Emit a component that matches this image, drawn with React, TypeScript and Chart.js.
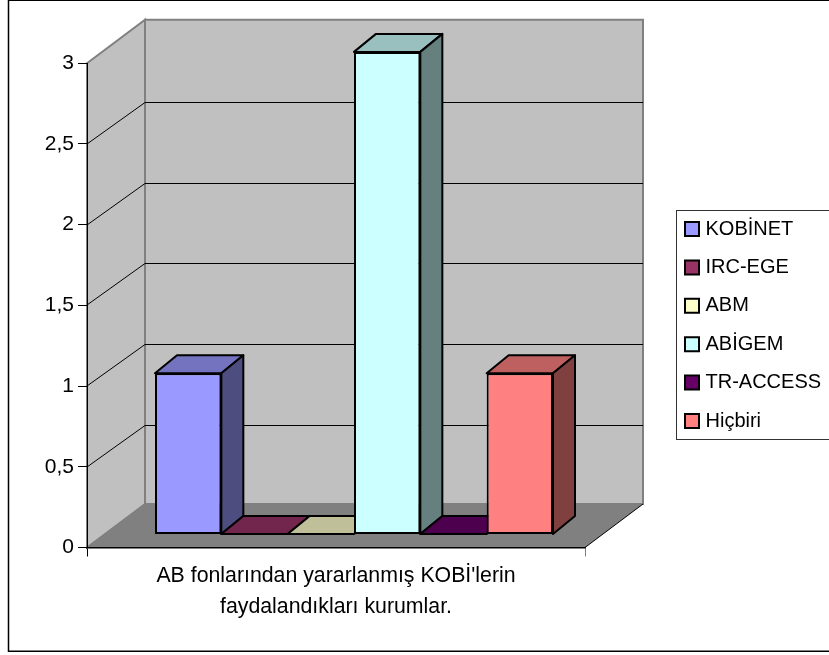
import React, { useEffect, useRef } from "react";
import { Chart, registerables } from "chart.js";

Chart.register(...registerables);

const categories = [["AB fonlarından yararlanmış KOBİ'lerin", "faydalandıkları kurumlar."]];
const seriesNames = ["KOBİNET", "IRC-EGE", "ABM", "ABİGEM", "TR-ACCESS", "Hiçbiri"];
const seriesValues = [1, 0, 0, 3, 0, 1];
const frontColors = ["#9999FF", "#993366", "#FFFFCC", "#CCFFFF", "#660066", "#FF8080"];
const topColors = ["#7373BF", "#73264D", "#BFBF99", "#99BFBF", "#4D004D", "#BF6060"];
const sideColors = ["#4D4D80", "#4D1A33", "#808066", "#668080", "#330033", "#804040"];
const yTickLabels = ["0", "0,5", "1", "1,5", "2", "2,5", "3"];

const FONT = "'Liberation Sans', Arial, sans-serif";
const WALL = { dx: 58, dy: 43.5, gridDy: 42 };
const BAR = { dx: 22, dy: 18, shift: 18 };

const poly = (ctx: CanvasRenderingContext2D, pts: number[][]) => {
  ctx.beginPath();
  pts.forEach((p, i) => (i ? ctx.lineTo(p[0], p[1]) : ctx.moveTo(p[0], p[1])));
  ctx.closePath();
};

const scenePlugin = {
  id: "scene3d",
  afterLayout(chart: any) {
    const l = chart.legend;
    l.left = 670.1;
    l.right = 829;
    l.top = 150;
    l.bottom = 500;
  },
  beforeDraw(chart: any) {
    const { ctx, chartArea: a, scales } = chart;
    const { dx, dy, gridDy } = WALL;
    ctx.save();
    ctx.fillStyle = "#fff";
    ctx.fillRect(0, 0, chart.width, chart.height);
    ctx.strokeStyle = "#000";
    ctx.lineWidth = 1.5;
    ctx.strokeRect(8.5, 0.25, 840, 651);

    // walls
    ctx.fillStyle = "#C0C0C0";
    ctx.strokeStyle = "#808080";
    ctx.lineWidth = 2;
    poly(ctx, [[a.left, a.top], [a.left + dx, a.top - dy], [a.left + dx, a.bottom - dy], [a.left, a.bottom]]);
    ctx.fill();
    ctx.stroke();
    poly(ctx, [[a.left + dx, a.top - dy], [a.right + dx, a.top - dy], [a.right + dx, a.bottom - dy], [a.left + dx, a.bottom - dy]]);
    ctx.fill();
    ctx.stroke();

    // gridlines
    ctx.strokeStyle = "#000";
    ctx.lineWidth = 1;
    const ys = scales.y;
    ys.ticks.forEach((t: any) => {
      if (t.value <= 0 || t.value >= ys.max) return;
      const y = Math.round(ys.getPixelForValue(t.value));
      ctx.beginPath();
      ctx.moveTo(a.left, y);
      ctx.lineTo(a.left + dx, y - gridDy + 0.5);
      ctx.lineTo(a.right + dx, y - gridDy + 0.5);
      ctx.stroke();
    });

    // floor
    ctx.fillStyle = "#808080";
    poly(ctx, [[a.left, a.bottom], [a.left + dx, a.bottom - dy], [a.right + dx, a.bottom - dy], [a.right, a.bottom]]);
    ctx.fill();
    ctx.strokeStyle = "#000";
    ctx.lineWidth = 1;
    ctx.beginPath();
    ctx.moveTo(a.right, a.bottom);
    ctx.lineTo(a.right + dx, a.bottom - dy);
    ctx.stroke();

    // legend frame
    ctx.strokeStyle = "#333";
    ctx.lineWidth = 1;
    ctx.fillStyle = "#fff";
    ctx.fillRect(676.5, 210.5, 170, 229);
    ctx.strokeRect(676.5, 210.5, 170, 229);
    ctx.restore();
  },
  beforeDatasetsDraw(chart: any) {
    const { ctx } = chart;
    chart.data.datasets.forEach((_: any, i: number) => {
      const meta = chart.getDatasetMeta(i);
      const bar = meta.data[0].getProps(["x", "y", "base", "width"], true);
      const l = bar.x - bar.width / 2;
      const r = bar.x + bar.width / 2;
      ctx.save();
      ctx.translate(BAR.shift, 0);
      ctx.strokeStyle = "#000";
      ctx.lineWidth = 2;
      ctx.lineJoin = "round";
      poly(ctx, [[l, bar.y], [l + BAR.dx, bar.y - BAR.dy], [r + BAR.dx, bar.y - BAR.dy], [r, bar.y]]);
      ctx.fillStyle = topColors[i];
      ctx.fill();
      ctx.stroke();
      if (bar.base - bar.y > 0.5) {
        poly(ctx, [[r, bar.y], [r + BAR.dx, bar.y - BAR.dy], [r + BAR.dx, bar.base - BAR.dy], [r, bar.base]]);
        ctx.fillStyle = sideColors[i];
        ctx.fill();
        ctx.stroke();
      }
      meta.controller.draw();
      ctx.restore();
    });
    return false;
  },
};

export default function App() {
  const ref = useRef<HTMLCanvasElement>(null);
  useEffect(() => {
    const chart = new Chart(ref.current as HTMLCanvasElement, {
      type: "bar",
      data: {
        labels: categories as any,
        datasets: seriesNames.map((name, i) => ({
          label: name,
          data: [seriesValues[i]],
          yAxisID: "yBars",
          backgroundColor: frontColors[i],
          borderColor: "#000",
          borderWidth: 2,
          borderSkipped: false,
          categoryPercentage: 0.7992,
          barPercentage: 1,
        })),
      },
      plugins: [scenePlugin as any],
      options: {
        responsive: false,
        animation: false,
        events: [],
        layout: { padding: { left: 0, top: 63.3, right: 244, bottom: 0 } },
        plugins: {
          title: { display: false },
          tooltip: { enabled: false },
          legend: {
            position: "chartArea" as any,
            align: "center",
            labels: {
              usePointStyle: true,
              pointStyle: "rect",
              boxWidth: 7,
              boxHeight: 14,
              padding: 18.4,
              color: "#000",
              font: { family: FONT, size: 20 },
            },
          },
        },
        scales: {
          x: {
            offset: true,
            border: { color: "#000", width: 1.5 },
            grid: {
              drawOnChartArea: false,
              tickLength: 9,
              tickColor: (c: any) => (c.index === 0 ? "#000" : "#808080"),
            },
            ticks: {
              color: "#000",
              font: { family: FONT, size: 21.3, lineHeight: 1.455 },
              maxRotation: 0,
              autoSkip: false,
              padding: 4,
              labelOffset: 0,
            },
            afterFit: (s: any) => {
              s.height = 107.5;
            },
          },
          y: {
            min: 0,
            max: 3,
            border: { color: "#000", width: 1 },
            grid: { drawOnChartArea: false, tickLength: 9, tickColor: "#000" },
            ticks: {
              stepSize: 0.5,
              color: "#000",
              padding: 4,
              font: { family: FONT, size: 21 },
              callback: (_v: any, i: number) => yTickLabels[i],
            },
            afterFit: (s: any) => {
              s.width = 87;
            },
          },
          yBars: {
            display: false,
            min: -0.084,
            max: 2.929,
          },
        },
      },
    });
    return () => chart.destroy();
  }, []);
  return (
    <div style={{ position: "absolute", left: 0, top: 0, width: 829, height: 655 }}>
      <canvas ref={ref} width={829} height={655} style={{ display: "block" }} />
    </div>
  );
}
